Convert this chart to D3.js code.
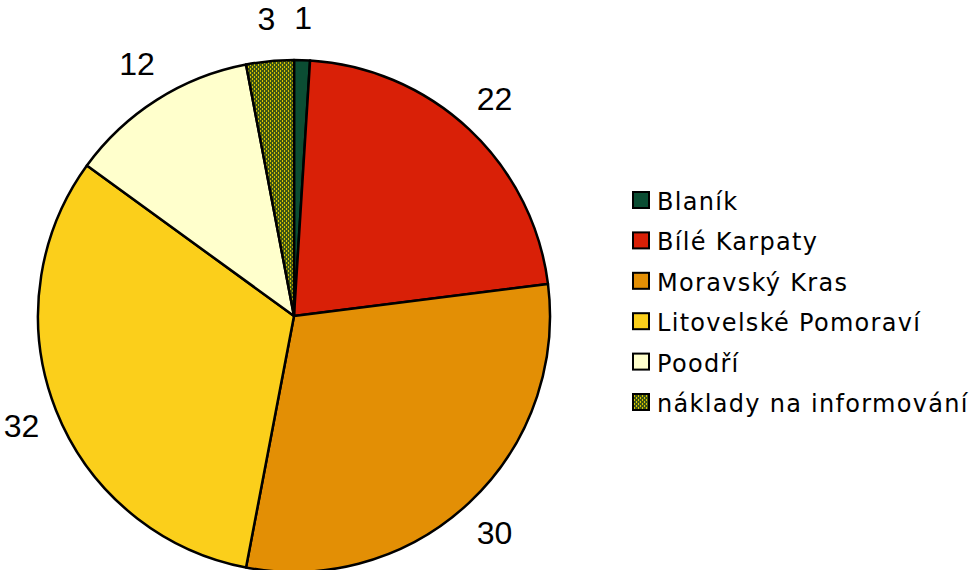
<!DOCTYPE html>
<html>
<head>
<meta charset="utf-8">
<script src="https://cdn.jsdelivr.net/npm/d3@7"></script>
<style>
  body { margin: 0; background: #fff; }
</style>
</head>
<body>
<div id="chart"></div>
<script>
// data
var categories = ["Blaník", "Bílé Karpaty", "Moravský Kras", "Litovelské Pomoraví", "Poodří", "náklady na informování"];
var values = [1, 22, 30, 32, 12, 3];
var colors = ["#0b4d33", "#d92007", "#e38f05", "#fbcf1b", "#ffffcc", "url(#hatch)"];

var width = 973, height = 570;
var cx = 294, cy = 316, radius = 256;
var labelRx = 293, labelRy = 298;

var svg = d3.select("#chart")
  .append("svg")
    .attr("width", width)
    .attr("height", height);

// hatched fill for the last slice
var pat = svg.append("defs").append("pattern")
    .attr("id", "hatch")
    .attr("patternUnits", "userSpaceOnUse")
    .attr("width", 4)
    .attr("height", 4);
pat.append("rect").attr("width", 4).attr("height", 4).attr("fill", "#3f5614");
pat.append("rect").attr("x", 0).attr("y", 0).attr("width", 1).attr("height", 2).attr("fill", "#d9c400");
pat.append("rect").attr("x", 2).attr("y", 2).attr("width", 1).attr("height", 2).attr("fill", "#d9c400");

var pie = d3.pie().sort(null).value(function(d) { return d; });
var arcs = pie(values);
var arc = d3.arc().innerRadius(0).outerRadius(radius);

var g = svg.append("g")
    .attr("transform", "translate(" + cx + "," + cy + ")");

g.selectAll("path")
  .data(arcs)
  .enter()
  .append("path")
    .attr("d", arc)
    .attr("fill", function(d, i) { return colors[i]; })
    .attr("stroke", "#000")
    .attr("stroke-width", 2.5)
    .attr("stroke-linejoin", "round");

// value labels outside the pie
g.selectAll("text")
  .data(arcs)
  .enter()
  .append("text")
    .attr("x", function(d) { return labelRx * Math.sin((d.startAngle + d.endAngle) / 2); })
    .attr("y", function(d) { return -labelRy * Math.cos((d.startAngle + d.endAngle) / 2); })
    .attr("text-anchor", "middle")
    .attr("dominant-baseline", "central")
    .style("font-family", "'Liberation Sans', Arial, sans-serif")
    .style("font-size", "32px")
    .text(function(d) { return d.data; });

// legend
var legend = svg.append("g")
    .attr("transform", "translate(632,191)");

var rows = legend.selectAll("g")
  .data(categories)
  .enter()
  .append("g")
    .attr("transform", function(d, i) { return "translate(0," + (i * 40.4) + ")"; });

rows.append("rect")
    .attr("x", 1)
    .attr("y", 1)
    .attr("width", 16)
    .attr("height", 16)
    .attr("fill", function(d, i) { return colors[i]; })
    .attr("stroke", "#000")
    .attr("stroke-width", 2);

rows.append("text")
    .attr("x", 25)
    .attr("y", 19)
    .style("font-family", "'DejaVu Sans', Verdana, sans-serif")
    .style("font-size", "24px")
    .style("letter-spacing", "1.3px")
    .attr("fill", "#000")
    .text(function(d) { return d; });
</script>
</body>
</html>
